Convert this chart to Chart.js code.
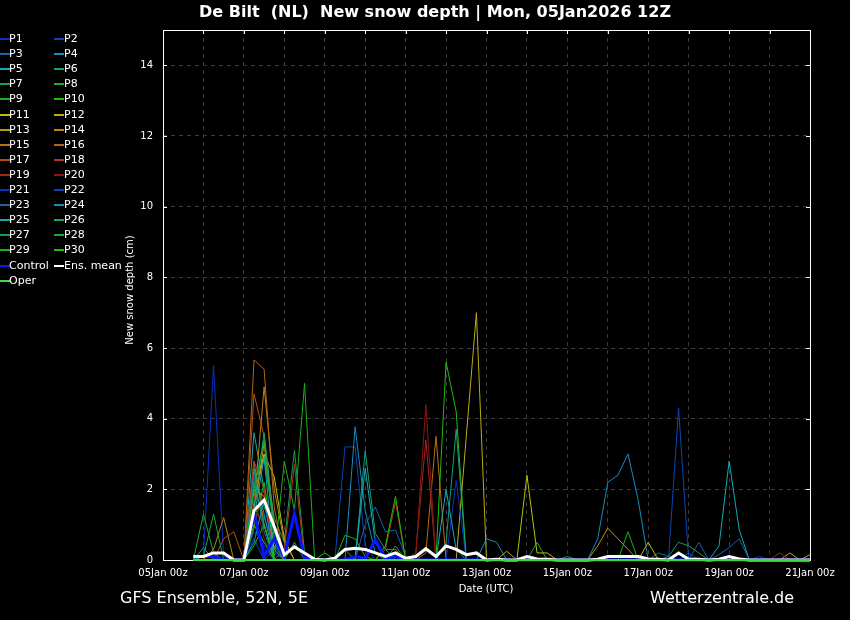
<!DOCTYPE html>
<html>
<head>
<meta charset="utf-8">
<script src="https://cdn.jsdelivr.net/npm/chart.js@4.4.1/dist/chart.umd.min.js"></script>
<style>
  html, body { margin: 0; padding: 0; background: #000; }
  #wrap { position: relative; width: 850px; height: 620px; background: #000; overflow: hidden;
          font-family: 'DejaVu Sans', sans-serif; color: #fff; }
  #c { position: absolute; left: 0; top: 0; }
  .txt { position: absolute; white-space: pre; line-height: 1; }
  .lg { position: absolute; font-size: 11px; line-height: 12px; white-space: pre; }
  .sw { position: absolute; height: 2px; width: 10px; }
</style>
</head>
<body>
<div id="wrap">
  <canvas id="c" width="850" height="620"></canvas>
  <div class="txt" style="left:0;width:870px;text-align:center;top:4px;font-size:16px;font-weight:bold;">De Bilt  (NL)  New snow depth | Mon, 05Jan2026 12Z</div>
  <div class="txt" style="left:125px;top:290px;width:120px;height:12px;text-align:center;font-size:10px;transform-origin:0 0;transform:translate(0,0) rotate(-90deg) translate(-60px,0);">New snow depth (cm)</div>
  <div class="txt" style="left:486px;top:589px;font-size:10px;transform:translate(-50%,-50%);">Date (UTC)</div>
  <div class="txt" style="left:120px;top:590px;font-size:16px;">GFS Ensemble, 52N, 5E</div>
  <div class="txt" style="left:650px;top:590px;font-size:16px;">Wetterzentrale.de</div>
  <div id="legend"></div>
</div>
<script>
// forecast hours since 05Jan 00z (run 05Jan2026 12Z, 6-hourly)
var hours = [18,24,30,36,42,48,54,60,66,72,78,84,90,96,102,108,114,120,126,132,138,144,150,156,162,168,174,180,186,192,198,204,210,216,222,228,234,240,246,252,258,264,270,276,282,288,294,300,306,312,318,324,330,336,342,348,354,360,366,372,378,384];
var dayHours = [0,24,48,72,96,120,144,168,192,216,240,264,288,312,336,360,384];
var tickHours = [0,48,96,144,192,240,288,336,384];
var tickLabels = ['05Jan 00z','07Jan 00z','09Jan 00z','11Jan 00z','13Jan 00z','15Jan 00z','17Jan 00z','19Jan 00z','21Jan 00z'];
var yTicks = [0,2,4,6,8,10,12,14];

// new snow depth (cm) per member
var P1 = [0,0.1,5.5,0.1,0,0,1.0,0.3,0,0, 0,0,0,0,0,0,0,0,0,0, 0,0,0,0,0,0,0,0,0,0, 0,0,0,0,0,0,0,0,0,0, 0,0,0,0,0,0,0,0,0,0, 0,0,0,0,0,0,0.1,0,0,0, 0,0];
var P2 = [0,0,0,0,0,0,0.8,0.5,0.2,0, 0,0,0,0,0,3.2,3.2,0.4,0,0, 0,0,0,0,0,0,0,0,0,0, 0,0,0,0,0,0,0,0,0,0, 0,0,0,0,0,0,0,0,0,0.2, 0,0,0,0,0,0,0,0,0,0, 0,0];
var P3 = [0,0,0,0,0,0,2.0,1.2,0.4,0, 0,0,0,0,0,0,0,1.0,1.5,0.8, 0.85,0.1,0,0,0,0,0,0,0,0, 0,0,0,0,0,0,0,0,0,0, 0,0,0,0,0,0,0.2,0.1,0,0, 0,0,0,0,0,0,0,0,0,0, 0,0];
var P4 = [0,0.35,0,0,0,0,2.6,1.3,0,0, 0,0,0,0,0,0,3.77,1.4,0.2,0, 0,0,0,0,0,0,0,0,0,0.6, 0.5,0,0,0,0,0,0,0,0,0, 0,0,0,0,0,0,0,0,0,0, 0,0,0,0,0,0,0,0,0,0, 0,0];
var P5 = [0,0,0,0,0,0,3.6,2.0,0.5,0, 0,0,0,0,0,0,0,0,0,0, 0,0,0,0,0,0,0,0,0,0, 0,0,0,0,0,0,0,0,0,0, 0,0,0,0,0,0,0,0,0,0, 0,0,0.4,2.8,0.85,0,0,0,0,0, 0,0];
var P6 = [0,0,0,0,0,0,2.2,2.9,1.0,0, 0,0,0,0,0,0,0,3.1,0.75,0.3, 0,0,0,0,0,0,0,0,0,0, 0,0,0,0,0,0,0,0,0,0, 0,0,0,0,0,0,0,0,0,0, 0,0,0,0,0,0,0,0,0,0, 0,0];
var P7 = [0,0,0,0,0,0,1.8,3.0,1.2,0.5, 3.1,0.2,0,0,0,0,0,0,0,0, 0.4,0,0,0,0,0,0,0,0,0, 0,0,0,0,0,0,0,0,0,0, 0,0,0,0,0,0,0,0,0,0, 0,0,0,0,0,0,0,0,0,0, 0,0];
var P8 = [0,1.3,0.2,0,0,0,2.5,1.5,0.8,0, 0.5,0,0,0,0,0,0,0,0,0, 0,0,0,0,0,0,0,0,0,0, 0,0,0,0,0,0,0,0,0,0, 0,0,0,0,0,0,0,0,0,0, 0,0,0,0,0,0,0,0,0,0, 0,0];
var P9 = [0,0,0,0,0,0,1.5,1.0,0,0, 0,0,0,0,0,0.7,0.6,0.1,0,0, 0,0,0,0,0,0,0,0,0,0, 0,0,0,0,0.5,0,0,0,0,0, 0,0,0,0.8,0,0,0,0,0,0, 0,0,0,0,0,0,0,0,0,0, 0,0];
var P10 = [0,0,0,0,0,0,0.9,2.2,0.3,0, 0,0,0,0,0,0,0,0,0,0, 0,0,0,0,0,5.6,4.2,0,0,0, 0,0,0,0,0,0,0,0,0,0, 0,0,0,0,0,0,0,0,0,0, 0,0,0,0,0,0,0,0,0,0, 0,0];
var P11 = [0,0,0,0,0,0,1.6,3.0,2.35,0.6, 0,0,0,0,0,0,0,0,0,0, 0,0,0,0,0,0,0,0,0,0, 0,0,0,2.4,0.2,0.2,0,0,0,0, 0,0,0,0,0,0.5,0,0,0,0, 0,0,0,0,0,0,0,0,0,0, 0,0];
var P12 = [0,0,0,0,0,0,2.0,1.8,0.3,0, 0,0,0,0,0,0,0,0,0,0, 0,0,0,0,0,0,0,3.5,7.0,0, 0,0.25,0,0,0,0,0,0,0,0, 0,0,0,0,0,0,0,0,0,0, 0,0,0,0,0,0,0,0,0,0.2, 0,0.15];
var P13 = [0,0,0,0,0,0,1.4,3.3,1.0,0, 0,0,0,0,0,0,0,0,0,0, 0,0,0,0,0,0,0,0,0,0, 0,0,0,0,0,0,0,0,0,0, 0.4,0.9,0.6,0.3,0,0,0,0,0,0, 0,0,0,0,0,0,0,0,0,0, 0,0];
var P14 = [0,0,0.3,1.2,0,0,1.5,4.9,2.0,0.5, 0,0,0,0,0,0,0,0,0,0, 0,0,0,0,0,0,0,0,0,0, 0,0,0,0,0,0,0,0,0,0, 0,0,0,0,0,0,0,0,0,0, 0,0,0,0,0,0,0,0,0,0, 0,0];
var P15 = [0,0,0,0,0,0,2.8,1.0,0,0, 0,0,0,0,0,0,0,0,0,0, 0,0,0,0.2,3.5,0,0,0,0,0, 0,0,0,0,0,0,0,0,0,0, 0,0,0,0,0,0,0,0,0,0, 0,0,0,0,0,0,0,0,0,0, 0,0];
var P16 = [0,0,0,0,0,0,5.66,5.4,1.5,0, 0,0,0,0,0,0,0,0,0,0.3, 0.3,0,0,0,0,0,0,0,0,0, 0,0,0,0,0,0,0,0,0,0, 0,0,0,0,0,0,0,0,0,0, 0,0,0,0,0,0,0,0,0,0, 0,0];
var P17 = [0,0,0,0.6,0.8,0,4.7,3.5,1.0,0, 0,0,0,0,0,0,0,0,0,0, 0,0,0,0,0,0,0,0,0,0, 0,0,0,0,0,0,0,0,0,0, 0,0,0,0,0,0,0,0,0,0, 0,0,0,0,0,0,0,0,0,0, 0,0];
var P18 = [0,0,0,0,0,0,2.8,2.0,0,0.3, 2.7,0,0,0,0,0,0,0,0,0.3, 1.65,0,0,0,0,0,0,0,0,0, 0,0,0,0,0,0,0,0,0,0, 0,0,0,0,0,0,0,0,0,0, 0,0,0,0,0,0,0,0,0,0, 0,0];
var P19 = [0,0,0,0,0,0,1.0,2.0,0,0, 0,0,0,0,0,0,0,0,0,0, 0,0,0.2,3.4,0,0,0,0,0,0, 0,0,0,0,0,0,0,0,0,0, 0,0,0,0,0,0,0,0,0,0, 0,0,0,0,0,0,0,0,0.2,0, 0,0];
var P20 = [0,0,0,0,0,0,1.8,0.6,0,0, 0,0,0,0,0,0,0,0,0,0, 0,0,0.1,4.4,0,0,0,0,0,0, 0,0,0,0,0,0,0,0,0,0, 0,0,0,0,0,0,0,0,0,0, 0,0,0,0,0,0,0,0,0,0, 0,0];
var P21 = [0,0,0,0,0,0,1.2,0.4,0,0, 0,0,0,0,0,0,0,0,0,0, 0,0,0,0,0,0,2.25,0,0,0, 0,0,0,0,0,0,0,0,0,0, 0,0,0,0,0,0,0,0,0,0, 0,0,0,0,0,0,0,0,0,0, 0,0];
var P22 = [0,0,0,0,0,0,0.6,0,0.3,0, 0,0,0,0,0,0,0,0,0,0, 0,0,0,0,0,0,0,0,0,0, 0,0,0,0,0,0,0,0,0,0, 0,0,0,0,0,0,0,0,4.3,0, 0,0,0,0,0,0,0,0,0,0, 0,0];
var P23 = [0,0,0,0,0,0,2.4,0.8,0,0, 0,0,0,0,0,0,0,0,0,0, 0,0,0,0,0,0,0,0,0,0, 0,0,0,0,0,0,0,0,0,0, 0,0,0,0,0,0,0,0,0,0, 0.5,0,0.15,0.35,0.6,0,0,0,0,0, 0,0];
var P24 = [0,0,0,0,0,0,0.5,1.7,0,0, 0,0,0,0,0,0,0,0,0,0, 0,0,0,0,0,0,0,0,0,0, 0,0,0,0,0,0,0,0,0,0, 0.6,2.2,2.4,3.0,1.7,0,0,0,0,0, 0,0,0,0,0,0,0,0,0,0, 0,0];
var P25 = [0,0,0,0,0,0,1.2,2.9,0,0, 0,0,0,0,0,0,0,2.6,0.5,0, 0,0,0,0,0,2.0,0.3,0,0,0, 0,0,0,0,0,0,0,0,0,0, 0,0,0,0,0,0,0,0,0,0, 0,0,0,0,0,0,0,0,0,0, 0,0];
var P26 = [0,0,0,0,0,0,1.5,3.6,1.0,0, 0,0,0,0,0,0,0,0,0,0, 0,0,0,0,0,0.5,3.7,0,0,0, 0,0,0,0,0,0,0,0,0,0, 0,0,0,0,0,0,0,0,0,0, 0,0,0,0,0,0,0,0,0,0, 0,0];
var P27 = [0,0,0,0,0,0,2.2,1.0,0,0, 0,0,0,0,0,0,0,0,0,0, 0,0,0,0,0,0,0,0,0,0, 0,0,0,0,0,0,0,0,0,0, 0,0,0,0,0,0,0,0.1,0.5,0.4, 0.2,0,0,0,0,0,0,0,0,0, 0,0];
var P28 = [0,0.1,1.3,0,0,0,2.0,3.4,0.6,0, 0,0,0,0,0,0.3,0,0,0,0, 0,0,0,0,0,0,0,0,0,0, 0,0,0,0,0,0,0,0,0,0, 0,0,0,0,0,0,0,0,0,0, 0,0,0,0,0,0,0,0,0,0, 0,0];
var P29 = [0,0,0,0,0,0,1.0,0.5,0,2.8, 1.4,5.0,0,0,0,0,0,0,0,0, 0,0,0,0,0,0,0,0,0,0, 0,0,0,0,0,0,0,0.1,0,0, 0,0,0,0,0,0,0,0,0,0, 0,0,0,0,0,0,0,0,0,0, 0,0];
var P30 = [0,0,0,0,0,0,0.4,1.0,0,0, 0,0,0,0.2,0,0,0,0,0,0.4, 1.8,0,0,0,0,0,0,0,0,0, 0,0,0,0,0,0,0,0,0,0, 0,0,0,0,0,0,0,0,0,0, 0,0,0,0,0,0,0,0,0,0, 0,0];
var control = [0.1,0.1,0.1,0,0,0,1.35,0.1,0.6,0.1, 1.3,0.05,0,0,0,0,0.1,0.05,0.57,0.05, 0.1,0,0,0,0,0,0,0,0,0, 0,0,0,0,0,0,0,0,0,0, 0,0,0,0,0,0,0,0,0,0, 0,0,0,0,0,0,0,0,0,0, 0,0];
var ensMean = [0.1,0.1,0.2,0.2,0,0,1.4,1.7,0.95,0.15, 0.37,0.2,0.02,0,0.05,0.3,0.33,0.3,0.2,0.1, 0.2,0.05,0.1,0.32,0.1,0.4,0.3,0.15,0.2,0, 0.02,0,0,0.1,0.03,0.02,0,0,0,0, 0.02,0.1,0.1,0.1,0.1,0.03,0.02,0,0.2,0.02, 0.02,0,0.02,0.1,0.03,0,0,0,0,0, 0,0];
var oper = [0,0,0,0,0,0,0,0,0,0, 0,0,0,0,0,0,0,0,0,0, 0,0,0,0,0,0,0,0,0,0, 0,0,0,0,0,0,0,0,0,0, 0,0,0,0,0,0,0,0,0,0, 0,0,0,0,0,0,0,0,0,0, 0,0];

var members = [P1,P2,P3,P4,P5,P6,P7,P8,P9,P10,P11,P12,P13,P14,P15,P16,P17,P18,P19,P20,
               P21,P22,P23,P24,P25,P26,P27,P28,P29,P30];
var palette = ['#0a32be','#0c46b8','#1464b4','#148cbe','#14aab4','#14a078','#14a050','#14aa3c','#14b414','#1ebe0a',
               '#bebe0a','#beaa14','#be960a','#be820a','#be6e0a','#b46414','#b45014','#aa3c1e','#a0281e','#8c1414'];

function pts(arr) {
  return arr.map(function (v, i) { return { x: hours[i], y: v }; });
}

var datasets = [];
members.forEach(function (m, k) {
  datasets.push({
    label: 'P' + (k + 1),
    data: pts(m),
    borderColor: palette[k % 20],
    borderWidth: 1,
    order: 100 - k
  });
});
datasets.push({ label: 'Control', data: pts(control), borderColor: '#0a14ff', borderWidth: 3, order: 3 });
datasets.push({ label: 'Ens. mean', data: pts(ensMean), borderColor: '#ffffff', borderWidth: 3, order: 2 });
datasets.push({ label: 'Oper', data: pts(oper), borderColor: '#3cdc3c', borderWidth: 2, order: 1 });

// legend as html, two columns
var lg = document.getElementById('legend');
datasets.forEach(function (d, k) {
  var row = Math.floor(k / 2), col = k % 2;
  var y = 39 + row * 15.1;
  var sx = col === 0 ? 0 : 54;
  var sw = document.createElement('div');
  sw.className = 'sw';
  sw.style.left = sx + 'px';
  sw.style.top = (y - 1) + 'px';
  sw.style.background = d.borderColor;
  lg.appendChild(sw);
  var t = document.createElement('div');
  t.className = 'lg';
  t.style.left = (sx + 9 + col) + 'px';
  t.style.top = (y - 6) + 'px';
  t.textContent = d.label;
  lg.appendChild(t);
});

var framePlugin = {
  id: 'frame',
  beforeDatasetsDraw: function (chart) {
    var a = chart.chartArea, ctx = chart.ctx;
    var xs = chart.scales.x, ys = chart.scales.y;
    ctx.save();
    ctx.strokeStyle = '#ffffff';
    ctx.lineWidth = 1;
    ctx.strokeRect(Math.round(a.left) + 0.5, Math.round(a.top) + 0.5,
                   Math.round(a.right - a.left), Math.round(a.bottom - a.top));
    ctx.beginPath();
    dayHours.forEach(function (h) {
      var x = Math.round(xs.getPixelForValue(h)) + 0.5;
      ctx.moveTo(x, a.top); ctx.lineTo(x, a.top + 4);
    });
    yTicks.forEach(function (v) {
      var y = Math.round(ys.getPixelForValue(v)) + 0.5;
      ctx.moveTo(a.left, y); ctx.lineTo(a.left + 4, y);
      ctx.moveTo(a.right, y); ctx.lineTo(a.right - 4, y);
    });
    ctx.stroke();
    ctx.restore();
  }
};

new Chart(document.getElementById('c').getContext('2d'), {
  type: 'line',
  data: { datasets: datasets },
  options: {
    responsive: false,
    animation: false,
    layout: { padding: { left: 120, right: 40, top: 30, bottom: 30 } },
    elements: { point: { radius: 0 }, line: { tension: 0 } },
    datasets: { line: { clip: false } },
    plugins: { legend: { display: false }, tooltip: { enabled: false } },
    scales: {
      x: {
        type: 'linear',
        min: 0,
        max: 384,
        afterFit: function (s) { s.height = 30; },
        afterBuildTicks: function (s) { s.ticks = dayHours.map(function (h) { return { value: h }; }); },
        grid: { color: '#3a3a3a', drawTicks: false },
        border: { display: false, dash: [4, 4] },
        ticks: {
          color: '#ffffff',
          font: { family: 'DejaVu Sans', size: 10 },
          padding: 7,
          autoSkip: false,
          maxRotation: 0,
          callback: function (v) {
            var k = tickHours.indexOf(v);
            return k >= 0 ? tickLabels[k] : '';
          }
        }
      },
      y: {
        min: 0,
        max: 15,
        afterFit: function (s) { s.width = 43; },
        afterBuildTicks: function (s) { s.ticks = yTicks.map(function (v) { return { value: v }; }); },
        grid: { color: '#3a3a3a', drawTicks: false },
        border: { display: false, dash: [4, 4] },
        ticks: {
          color: '#ffffff',
          font: { family: 'DejaVu Sans', size: 10 },
          padding: 10
        }
      }
    }
  },
  plugins: [framePlugin]
});
</script>
</body>
</html>
